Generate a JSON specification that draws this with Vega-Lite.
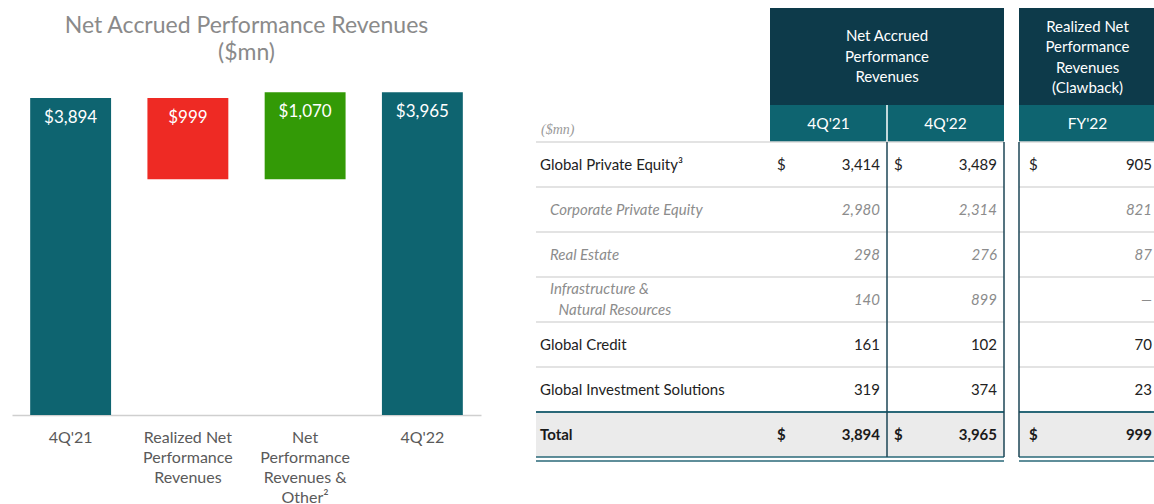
{
  "$schema": "https://vega.github.io/schema/vega-lite/v6.json",
  "padding": {"left": 12, "top": 8, "right": 0, "bottom": 0},
  "autosize": {"type": "pad"},
  "background": "white",
  "config": {"view": {"stroke": null}, "font": "Lato", "text": {"font": "Lato"}},
  "datasets": {
    "waterfall": [
      {"stage": "4Q'21", "low": 0, "high": 3894, "label": "$3,894", "kind": "total"},
      {"stage": "Realized Net Performance Revenues", "low": 2895, "high": 3894, "label": "$999", "kind": "decrease"},
      {"stage": "Net Performance Revenues & Other²", "low": 2895, "high": 3965, "label": "$1,070", "kind": "increase"},
      {"stage": "4Q'22", "low": 0, "high": 3965, "label": "$3,965", "kind": "total"}
    ],
    "columns": [
      {"period": "4Q'21", "group": "Net Accrued Performance Revenues"},
      {"period": "4Q'22", "group": "Net Accrued Performance Revenues"},
      {"period": "FY'22", "group": "Realized Net Performance Revenues (Clawback)"}
    ],
    "rows": [
      {"item": "Global Private Equity³", "label": "Global Private Equity³", "level": "main"},
      {"item": "Corporate Private Equity", "label": "Corporate Private Equity", "level": "sub"},
      {"item": "Real Estate", "label": "Real Estate", "level": "sub"},
      {"item": "Infrastructure & Natural Resources", "label": "Infrastructure &\n\u200b\u2002\u2009Natural Resources", "level": "sub"},
      {"item": "Global Credit", "label": "Global Credit", "level": "main"},
      {"item": "Global Investment Solutions", "label": "Global Investment Solutions", "level": "main"},
      {"item": "Total", "label": "Total", "level": "total"}
    ],
    "cells": [
      {"item": "Global Private Equity³", "level": "main", "period": "4Q'21", "value": 3414, "dollar": "$"},
      {"item": "Global Private Equity³", "level": "main", "period": "4Q'22", "value": 3489, "dollar": "$"},
      {"item": "Global Private Equity³", "level": "main", "period": "FY'22", "value": 905, "dollar": "$"},
      {"item": "Corporate Private Equity", "level": "sub", "period": "4Q'21", "value": 2980, "dollar": ""},
      {"item": "Corporate Private Equity", "level": "sub", "period": "4Q'22", "value": 2314, "dollar": ""},
      {"item": "Corporate Private Equity", "level": "sub", "period": "FY'22", "value": 821, "dollar": ""},
      {"item": "Real Estate", "level": "sub", "period": "4Q'21", "value": 298, "dollar": ""},
      {"item": "Real Estate", "level": "sub", "period": "4Q'22", "value": 276, "dollar": ""},
      {"item": "Real Estate", "level": "sub", "period": "FY'22", "value": 87, "dollar": ""},
      {"item": "Infrastructure & Natural Resources", "level": "sub", "period": "4Q'21", "value": 140, "dollar": ""},
      {"item": "Infrastructure & Natural Resources", "level": "sub", "period": "4Q'22", "value": 899, "dollar": ""},
      {"item": "Infrastructure & Natural Resources", "level": "sub", "period": "FY'22", "value": null, "dollar": ""},
      {"item": "Global Credit", "level": "main", "period": "4Q'21", "value": 161, "dollar": ""},
      {"item": "Global Credit", "level": "main", "period": "4Q'22", "value": 102, "dollar": ""},
      {"item": "Global Credit", "level": "main", "period": "FY'22", "value": 70, "dollar": ""},
      {"item": "Global Investment Solutions", "level": "main", "period": "4Q'21", "value": 319, "dollar": ""},
      {"item": "Global Investment Solutions", "level": "main", "period": "4Q'22", "value": 374, "dollar": ""},
      {"item": "Global Investment Solutions", "level": "main", "period": "FY'22", "value": 23, "dollar": ""},
      {"item": "Total", "level": "total", "period": "4Q'21", "value": 3894, "dollar": "$"},
      {"item": "Total", "level": "total", "period": "4Q'22", "value": 3965, "dollar": "$"},
      {"item": "Total", "level": "total", "period": "FY'22", "value": 999, "dollar": "$"}
    ]
  },
  "spacing": 55,
  "bounds": "flush",
  "hconcat": [
    {
      "width": 469,
      "height": 407,
      "data": {"name": "waterfall"},
      "title": {"text": ["Net Accrued Performance Revenues", "($mn)"], "font": "Lato", "fontSize": 23, "fontWeight": "normal", "color": "#8a8a8a", "lineHeight": 27, "anchor": "middle", "offset": -57},
      "encoding": {
        "x": {
          "field": "stage", "type": "nominal", "sort": null,
          "scale": {"type": "band", "paddingInner": 0.31, "paddingOuter": 0.155},
          "axis": {
            "title": null, "labelAngle": 0, "ticks": false, "domainColor": "#cfcfcf", "domainWidth": 1.5,
            "labelFont": "Lato", "labelFontSize": 16, "labelColor": "#5a5a5a", "labelLineHeight": 20,
            "labelPadding": 14, "labelLimit": 0, "labelOverlap": false, "labelBaseline": "top",
            "labelExpr": "datum.value == 'Realized Net Performance Revenues' ? ['Realized Net', 'Performance', 'Revenues'] : datum.value == 'Net Performance Revenues & Other²' ? ['Net', 'Performance', 'Revenues &', 'Other²'] : datum.value"
          }
        }
      },
      "layer": [
        {
          "mark": {"type": "bar"},
          "encoding": {
            "y": {"field": "low", "type": "quantitative", "scale": {"domain": [0, 5000], "nice": false}, "axis": null},
            "y2": {"field": "high"},
            "color": {"field": "kind", "type": "nominal", "scale": {"domain": ["total", "decrease", "increase"], "range": ["#0e6470", "#ee2a24", "#339a06"]}, "legend": null}
          }
        },
        {
          "mark": {"type": "text", "baseline": "middle", "dy": 20, "fontSize": 17, "color": "white", "font": "Lato"},
          "encoding": {
            "y": {"field": "high", "type": "quantitative"},
            "text": {"field": "label"}
          }
        }
      ]
    },
    {
      "spacing": 13,
      "hconcat": [
        {
          "spacing": 0,
          "bounds": "flush",
          "vconcat": [
            {
              "width": 468,
              "height": 97,
              "data": {"name": "columns"},
              "transform": [{"filter": {"field": "group", "equal": "Net Accrued Performance Revenues"}}],
              "layer": [
                {
                  "mark": {"type": "rect", "color": "#0d3a4a"},
                  "encoding": {"x": {"field": "period", "type": "nominal", "scale": {"type": "band", "domain": ["row label", "row label 2", "4Q'21", "4Q'22"], "paddingInner": 0, "paddingOuter": 0}, "axis": null}}
                },
                {
                  "transform": [{"aggregate": [{"op": "count", "as": "n"}], "groupby": ["group"]}],
                  "mark": {"type": "text", "text": ["Net Accrued", "Performance", "Revenues"], "color": "white", "fontSize": 15, "lineHeight": 20.5, "align": "center", "baseline": "middle", "dy": -20.5},
                  "encoding": {"x": {"datum": "4Q'22", "type": "nominal", "bandPosition": 0, "scale": {"type": "band", "domain": ["row label", "row label 2", "4Q'21", "4Q'22"], "paddingInner": 0, "paddingOuter": 0}, "axis": null}}
                }
              ]
            },
            {
              "width": 468,
              "height": 37,
              "data": {"name": "columns"},
              "transform": [{"filter": {"field": "group", "equal": "Net Accrued Performance Revenues"}}],
              "layer": [
                {
                  "mark": {"type": "rect", "color": "#0e6470"},
                  "encoding": {"x": {"field": "period", "type": "nominal", "scale": {"type": "band", "domain": ["row label", "row label 2", "4Q'21", "4Q'22"], "paddingInner": 0, "paddingOuter": 0}, "axis": null}}
                },
                {
                  "mark": {"type": "text", "color": "white", "fontSize": 15.5, "baseline": "middle", "align": "center"},
                  "encoding": {
                    "x": {"field": "period", "type": "nominal", "scale": {"type": "band", "domain": ["row label", "row label 2", "4Q'21", "4Q'22"], "paddingInner": 0, "paddingOuter": 0}, "axis": null},
                    "text": {"field": "period"}
                  }
                },
                {
                  "transform": [{"aggregate": [{"op": "count", "as": "n"}], "groupby": ["group"]}],
                  "mark": {"type": "rule", "color": "white", "strokeWidth": 1.5},
                  "encoding": {"x": {"datum": "4Q'22", "type": "nominal", "bandPosition": 0, "scale": {"type": "band", "domain": ["row label", "row label 2", "4Q'21", "4Q'22"], "paddingInner": 0, "paddingOuter": 0}, "axis": null}}
                },
                {
                  "transform": [{"aggregate": [{"op": "count", "as": "n"}], "groupby": ["group"]}],
                  "mark": {"type": "text", "text": "($mn)", "font": "Liberation Serif", "fontStyle": "italic", "fontSize": 14, "color": "#9a9a9a", "align": "left", "baseline": "middle", "dx": 5, "dy": 6},
                  "encoding": {"x": {"datum": "row label", "type": "nominal", "bandPosition": 0, "scale": {"type": "band", "domain": ["row label", "row label 2", "4Q'21", "4Q'22"], "paddingInner": 0, "paddingOuter": 0}, "axis": null}}
                }
              ]
            },
            {
              "width": 468,
              "height": 315,
              "encoding": {
                "y": {"field": "item", "type": "nominal", "scale": {"type": "band", "domain": ["Global Private Equity³", "Corporate Private Equity", "Real Estate", "Infrastructure & Natural Resources", "Global Credit", "Global Investment Solutions", "Total"], "paddingInner": 0, "paddingOuter": 0}, "axis": null}
              },
              "layer": [
                {
                  "data": {"name": "rows"},
                  "transform": [{"filter": {"field": "level", "equal": "total"}}],
                  "mark": {"type": "rect", "color": "#ebebeb"},
                  "encoding": {}
                },
                {
                  "data": {"name": "rows"},
                  "transform": [{"filter": {"field": "level", "oneOf": ["main", "sub"]}}],
                  "mark": {"type": "rule", "color": "#dadada", "strokeWidth": 1.5},
                  "encoding": {"y": {"field": "item", "type": "nominal", "bandPosition": 0}}
                },
                {
                  "data": {"name": "rows"},
                  "transform": [{"filter": {"field": "level", "equal": "total"}}],
                  "mark": {"type": "rule", "color": "#2a6878", "strokeWidth": 2},
                  "encoding": {"y": {"field": "item", "type": "nominal", "bandPosition": 0}}
                },
                {
                  "data": {"name": "rows"},
                  "transform": [{"filter": {"field": "level", "equal": "total"}}],
                  "mark": {"type": "rule", "color": "#2a6878", "strokeWidth": 1.5},
                  "encoding": {"y": {"field": "item", "type": "nominal", "bandPosition": 1}}
                },
                {
                  "data": {"name": "rows"},
                  "transform": [{"filter": {"field": "level", "equal": "total"}}],
                  "mark": {"type": "rule", "color": "#2a6878", "strokeWidth": 1.5, "yOffset": 4},
                  "encoding": {"y": {"field": "item", "type": "nominal", "bandPosition": 1}}
                },
                {
                  "data": {"name": "rows"},
                  "transform": [{"filter": {"field": "level", "equal": "total"}}],
                  "mark": {"type": "rule", "color": "#1c4656", "strokeWidth": 1.5},
                  "encoding": {"y": null, "x": {"datum": "4Q'22", "type": "nominal", "bandPosition": 0, "scale": {"type": "band", "domain": ["row label", "row label 2", "4Q'21", "4Q'22"], "paddingInner": 0, "paddingOuter": 0}, "axis": null}}
                },
                {
                  "data": {"name": "rows"},
                  "transform": [{"filter": {"field": "level", "equal": "total"}}],
                  "mark": {"type": "rule", "color": "#1c4656", "strokeWidth": 1.5},
                  "encoding": {"y": null, "x": {"datum": "4Q'22", "type": "nominal", "bandPosition": 1, "scale": {"type": "band", "domain": ["row label", "row label 2", "4Q'21", "4Q'22"], "paddingInner": 0, "paddingOuter": 0}, "axis": null}}
                },
                {
                  "data": {"name": "rows"},
                  "transform": [{"filter": {"field": "level", "equal": "main"}}],
                  "mark": {"type": "text", "align": "left", "baseline": "middle", "dx": 4, "fontSize": 15, "color": "#222222"},
                  "encoding": {
                    "x": {"datum": "row label", "type": "nominal", "bandPosition": 0, "scale": {"type": "band", "domain": ["row label", "row label 2", "4Q'21", "4Q'22"], "paddingInner": 0, "paddingOuter": 0}, "axis": null},
                    "text": {"field": "label"}
                  }
                },
                {
                  "data": {"name": "rows"},
                  "transform": [{"filter": {"field": "level", "equal": "sub"}}, {"filter": "datum.item != 'Infrastructure & Natural Resources'"}],
                  "mark": {"type": "text", "align": "left", "baseline": "middle", "dx": 14, "fontSize": 15, "fontStyle": "italic", "color": "#8c8c8c"},
                  "encoding": {
                    "x": {"datum": "row label", "type": "nominal", "bandPosition": 0, "scale": {"type": "band", "domain": ["row label", "row label 2", "4Q'21", "4Q'22"], "paddingInner": 0, "paddingOuter": 0}, "axis": null},
                    "text": {"field": "label"}
                  }
                },
                {
                  "data": {"name": "rows"},
                  "transform": [{"filter": "datum.item == 'Infrastructure & Natural Resources'"}],
                  "mark": {"type": "text", "align": "left", "baseline": "middle", "dx": 14, "dy": -10.5, "fontSize": 15, "fontStyle": "italic", "color": "#8c8c8c", "lineBreak": "\n", "lineHeight": 21},
                  "encoding": {
                    "x": {"datum": "row label", "type": "nominal", "bandPosition": 0, "scale": {"type": "band", "domain": ["row label", "row label 2", "4Q'21", "4Q'22"], "paddingInner": 0, "paddingOuter": 0}, "axis": null},
                    "text": {"field": "label"}
                  }
                },
                {
                  "data": {"name": "rows"},
                  "transform": [{"filter": {"field": "level", "equal": "total"}}],
                  "mark": {"type": "text", "align": "left", "baseline": "middle", "dx": 4, "fontSize": 15, "fontWeight": "bold", "color": "#1a1a1a"},
                  "encoding": {
                    "x": {"datum": "row label", "type": "nominal", "bandPosition": 0, "scale": {"type": "band", "domain": ["row label", "row label 2", "4Q'21", "4Q'22"], "paddingInner": 0, "paddingOuter": 0}, "axis": null},
                    "text": {"field": "label"}
                  }
                },
                {
                  "data": {"name": "cells"},
                  "transform": [{"filter": {"field": "period", "oneOf": ["4Q'21", "4Q'22"]}}, {"filter": {"field": "level", "equal": "main"}}],
                  "mark": {"type": "text", "align": "right", "baseline": "middle", "dx": -7, "fontSize": 15, "color": "#222222"},
                  "encoding": {
                    "x": {"field": "period", "type": "nominal", "bandPosition": 1, "scale": {"type": "band", "domain": ["row label", "row label 2", "4Q'21", "4Q'22"], "paddingInner": 0, "paddingOuter": 0}, "axis": null},
                    "text": {"field": "value", "type": "quantitative", "format": ","}
                  }
                },
                {
                  "data": {"name": "cells"},
                  "transform": [{"filter": {"field": "period", "oneOf": ["4Q'21", "4Q'22"]}}, {"filter": {"field": "level", "equal": "sub"}}],
                  "mark": {"type": "text", "align": "right", "baseline": "middle", "dx": -7, "fontSize": 15, "fontStyle": "italic", "color": "#8c8c8c"},
                  "encoding": {
                    "x": {"field": "period", "type": "nominal", "bandPosition": 1, "scale": {"type": "band", "domain": ["row label", "row label 2", "4Q'21", "4Q'22"], "paddingInner": 0, "paddingOuter": 0}, "axis": null},
                    "text": {"field": "value", "type": "quantitative", "format": ","}
                  }
                },
                {
                  "data": {"name": "cells"},
                  "transform": [{"filter": {"field": "period", "oneOf": ["4Q'21", "4Q'22"]}}, {"filter": {"field": "level", "equal": "total"}}],
                  "mark": {"type": "text", "align": "right", "baseline": "middle", "dx": -7, "fontSize": 15, "fontWeight": "bold", "color": "#1a1a1a"},
                  "encoding": {
                    "x": {"field": "period", "type": "nominal", "bandPosition": 1, "scale": {"type": "band", "domain": ["row label", "row label 2", "4Q'21", "4Q'22"], "paddingInner": 0, "paddingOuter": 0}, "axis": null},
                    "text": {"field": "value", "type": "quantitative", "format": ","}
                  }
                },
                {
                  "data": {"name": "cells"},
                  "transform": [{"filter": {"field": "period", "oneOf": ["4Q'21", "4Q'22"]}}, {"filter": {"field": "level", "equal": "main"}}],
                  "mark": {"type": "text", "align": "left", "baseline": "middle", "dx": 7, "fontSize": 15, "color": "#222222"},
                  "encoding": {
                    "x": {"field": "period", "type": "nominal", "bandPosition": 0, "scale": {"type": "band", "domain": ["row label", "row label 2", "4Q'21", "4Q'22"], "paddingInner": 0, "paddingOuter": 0}, "axis": null},
                    "text": {"field": "dollar"}
                  }
                },
                {
                  "data": {"name": "cells"},
                  "transform": [{"filter": {"field": "period", "oneOf": ["4Q'21", "4Q'22"]}}, {"filter": {"field": "level", "equal": "total"}}],
                  "mark": {"type": "text", "align": "left", "baseline": "middle", "dx": 7, "fontSize": 15, "fontWeight": "bold", "color": "#1a1a1a"},
                  "encoding": {
                    "x": {"field": "period", "type": "nominal", "bandPosition": 0, "scale": {"type": "band", "domain": ["row label", "row label 2", "4Q'21", "4Q'22"], "paddingInner": 0, "paddingOuter": 0}, "axis": null},
                    "text": {"field": "dollar"}
                  }
                }
              ]
            }
          ]
        },
        {
          "spacing": 0,
          "bounds": "flush",
          "vconcat": [
            {
              "width": 137,
              "height": 97,
              "data": {"name": "columns"},
              "transform": [{"filter": {"field": "group", "equal": "Realized Net Performance Revenues (Clawback)"}}],
              "layer": [
                {
                  "mark": {"type": "rect", "color": "#0d3a4a"},
                  "encoding": {"x": {"field": "period", "type": "nominal", "scale": {"type": "band", "domain": ["FY'22"], "paddingInner": 0, "paddingOuter": 0}, "axis": null}}
                },
                {
                  "mark": {"type": "text", "text": ["Realized Net", "Performance", "Revenues", "(Clawback)"], "color": "white", "fontSize": 15, "lineHeight": 20.5, "align": "center", "baseline": "middle", "dy": -29.75},
                  "encoding": {"x": {"field": "period", "type": "nominal", "scale": {"type": "band", "domain": ["FY'22"], "paddingInner": 0, "paddingOuter": 0}, "axis": null}}
                }
              ]
            },
            {
              "width": 137,
              "height": 37,
              "data": {"name": "columns"},
              "transform": [{"filter": {"field": "group", "equal": "Realized Net Performance Revenues (Clawback)"}}],
              "layer": [
                {
                  "mark": {"type": "rect", "color": "#0e6470"},
                  "encoding": {"x": {"field": "period", "type": "nominal", "scale": {"type": "band", "domain": ["FY'22"], "paddingInner": 0, "paddingOuter": 0}, "axis": null}}
                },
                {
                  "mark": {"type": "text", "color": "white", "fontSize": 15.5, "baseline": "middle", "align": "center"},
                  "encoding": {
                    "x": {"field": "period", "type": "nominal", "scale": {"type": "band", "domain": ["FY'22"], "paddingInner": 0, "paddingOuter": 0}, "axis": null},
                    "text": {"field": "period"}
                  }
                }
              ]
            },
            {
              "width": 137,
              "height": 315,
              "encoding": {
                "y": {"field": "item", "type": "nominal", "scale": {"type": "band", "domain": ["Global Private Equity³", "Corporate Private Equity", "Real Estate", "Infrastructure & Natural Resources", "Global Credit", "Global Investment Solutions", "Total"], "paddingInner": 0, "paddingOuter": 0}, "axis": null}
              },
              "layer": [
                {
                  "data": {"name": "rows"},
                  "transform": [{"filter": {"field": "level", "equal": "total"}}],
                  "mark": {"type": "rect", "color": "#ebebeb"},
                  "encoding": {}
                },
                {
                  "data": {"name": "rows"},
                  "transform": [{"filter": {"field": "level", "oneOf": ["main", "sub"]}}],
                  "mark": {"type": "rule", "color": "#dadada", "strokeWidth": 1.5},
                  "encoding": {"y": {"field": "item", "type": "nominal", "bandPosition": 0}}
                },
                {
                  "data": {"name": "rows"},
                  "transform": [{"filter": {"field": "level", "equal": "total"}}],
                  "mark": {"type": "rule", "color": "#2a6878", "strokeWidth": 2},
                  "encoding": {"y": {"field": "item", "type": "nominal", "bandPosition": 0}}
                },
                {
                  "data": {"name": "rows"},
                  "transform": [{"filter": {"field": "level", "equal": "total"}}],
                  "mark": {"type": "rule", "color": "#2a6878", "strokeWidth": 1.5},
                  "encoding": {"y": {"field": "item", "type": "nominal", "bandPosition": 1}}
                },
                {
                  "data": {"name": "rows"},
                  "transform": [{"filter": {"field": "level", "equal": "total"}}],
                  "mark": {"type": "rule", "color": "#2a6878", "strokeWidth": 1.5, "yOffset": 4},
                  "encoding": {"y": {"field": "item", "type": "nominal", "bandPosition": 1}}
                },
                {
                  "data": {"name": "rows"},
                  "transform": [{"filter": {"field": "level", "equal": "total"}}],
                  "mark": {"type": "rule", "color": "#1c4656", "strokeWidth": 1.5},
                  "encoding": {"y": null, "x": {"datum": "FY'22", "type": "nominal", "bandPosition": 0, "scale": {"type": "band", "domain": ["FY'22"], "paddingInner": 0, "paddingOuter": 0}, "axis": null}}
                },
                {
                  "data": {"name": "cells"},
                  "transform": [{"filter": {"field": "period", "equal": "FY'22"}}, {"filter": {"field": "level", "equal": "main"}}],
                  "mark": {"type": "text", "align": "right", "baseline": "middle", "dx": -4, "fontSize": 15, "color": "#222222"},
                  "encoding": {
                    "x": {"field": "period", "type": "nominal", "bandPosition": 1, "scale": {"type": "band", "domain": ["FY'22"], "paddingInner": 0, "paddingOuter": 0}, "axis": null},
                    "text": {"field": "value", "type": "quantitative", "format": ","}
                  }
                },
                {
                  "data": {"name": "cells"},
                  "transform": [{"filter": {"field": "period", "equal": "FY'22"}}, {"filter": {"field": "level", "equal": "sub"}}],
                  "mark": {"type": "text", "align": "right", "baseline": "middle", "dx": -4, "fontSize": 15, "fontStyle": "italic", "color": "#8c8c8c"},
                  "encoding": {
                    "x": {"field": "period", "type": "nominal", "bandPosition": 1, "scale": {"type": "band", "domain": ["FY'22"], "paddingInner": 0, "paddingOuter": 0}, "axis": null},
                    "text": {"condition": {"test": "datum.value === null", "value": "—"}, "field": "value", "type": "quantitative", "format": ","}
                  }
                },
                {
                  "data": {"name": "cells"},
                  "transform": [{"filter": {"field": "period", "equal": "FY'22"}}, {"filter": {"field": "level", "equal": "total"}}],
                  "mark": {"type": "text", "align": "right", "baseline": "middle", "dx": -4, "fontSize": 15, "fontWeight": "bold", "color": "#1a1a1a"},
                  "encoding": {
                    "x": {"field": "period", "type": "nominal", "bandPosition": 1, "scale": {"type": "band", "domain": ["FY'22"], "paddingInner": 0, "paddingOuter": 0}, "axis": null},
                    "text": {"field": "value", "type": "quantitative", "format": ","}
                  }
                },
                {
                  "data": {"name": "cells"},
                  "transform": [{"filter": {"field": "period", "equal": "FY'22"}}, {"filter": {"field": "level", "equal": "main"}}],
                  "mark": {"type": "text", "align": "left", "baseline": "middle", "dx": 10, "fontSize": 15, "color": "#222222"},
                  "encoding": {
                    "x": {"field": "period", "type": "nominal", "bandPosition": 0, "scale": {"type": "band", "domain": ["FY'22"], "paddingInner": 0, "paddingOuter": 0}, "axis": null},
                    "text": {"field": "dollar"}
                  }
                },
                {
                  "data": {"name": "cells"},
                  "transform": [{"filter": {"field": "period", "equal": "FY'22"}}, {"filter": {"field": "level", "equal": "total"}}],
                  "mark": {"type": "text", "align": "left", "baseline": "middle", "dx": 10, "fontSize": 15, "fontWeight": "bold", "color": "#1a1a1a"},
                  "encoding": {
                    "x": {"field": "period", "type": "nominal", "bandPosition": 0, "scale": {"type": "band", "domain": ["FY'22"], "paddingInner": 0, "paddingOuter": 0}, "axis": null},
                    "text": {"field": "dollar"}
                  }
                }
              ]
            }
          ]
        }
      ]
    }
  ]
}
